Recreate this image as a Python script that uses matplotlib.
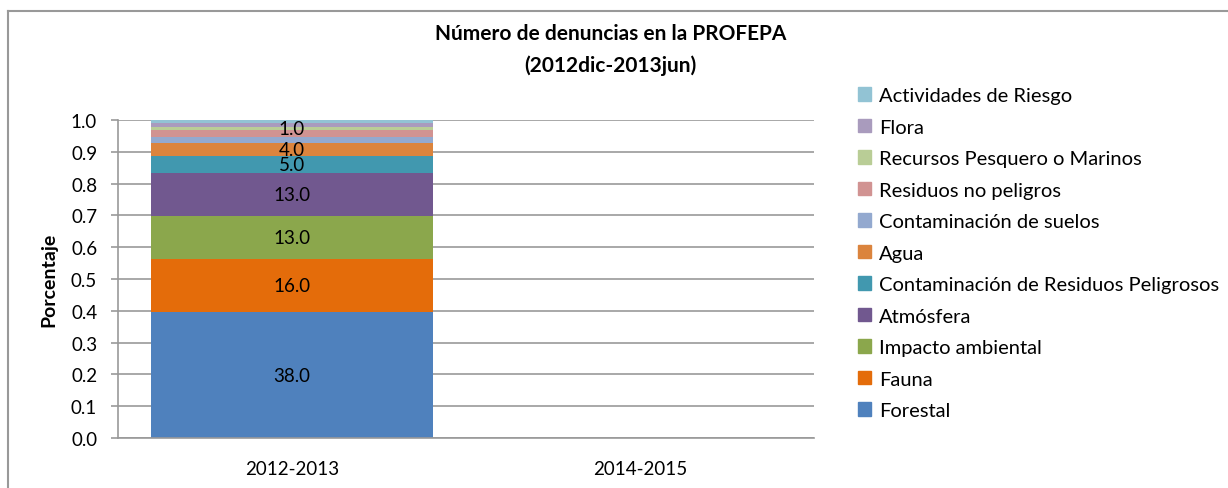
import matplotlib
matplotlib.use("Agg")
import matplotlib.pyplot as plt
from matplotlib.patches import Patch
from matplotlib.lines import Line2D

plt.rcParams['font.family'] = ['Lato', 'DejaVu Sans']

# data: number of complaints per category (2012dic-2013jun)
categorias = ["Forestal", "Fauna", "Impacto ambiental", "Atmósfera",
              "Contaminación de Residuos Peligrosos", "Agua",
              "Contaminación de suelos", "Residuos no peligros",
              "Recursos Pesquero o Marinos", "Flora", "Actividades de Riesgo"]
denuncias = [38, 16, 13, 13, 5, 4, 2, 2, 1, 1, 1]
mostrar_etiqueta = [True, True, True, True, True, True, False, False, True, False, False]
periodos = ["2012-2013", "2014-2015"]
colores = ["#4F81BD", "#E46C0A", "#8BA74C", "#71588F", "#4198AF", "#DB843D",
           "#93A9CF", "#D19392", "#B9CD96", "#A99BBD", "#92C3D4"]

total = sum(denuncias)
FS = 13.5

fig = plt.figure(figsize=(12.28, 4.89), dpi=100)
ax = fig.add_axes([0.0961, 0.1022, 0.5668, 0.6504])

x = [0, 1]
base = 0.0
for cat, val, col, lab in zip(categorias, denuncias, colores, mostrar_etiqueta):
    h = val / total
    ax.bar(x[0], h, bottom=base, width=0.81, color=col, label=cat, zorder=2)
    if lab:
        ax.text(x[0], base + h / 2, f"{val:.1f}", ha="center", va="center",
                fontsize=FS, color="black", zorder=3)
    base += h

ax.set_xlim(-0.5, 1.5)
ax.set_ylim(0, 1.0)
ax.set_xticks(x)
ax.set_xticklabels(periodos, fontsize=FS)
ax.set_yticks([i / 10 for i in range(11)])
ax.set_yticklabels([f"{i / 10:.1f}" for i in range(11)], fontsize=FS)
ax.yaxis.grid(True, color="#999999", linewidth=1.2, zorder=0)
ax.tick_params(axis="x", length=0, pad=16)
ax.tick_params(axis="y", length=5, width=1.2, color="#999999", pad=10)
for s in ["top", "right"]:
    ax.spines[s].set_visible(False)
ax.spines["left"].set_color("#999999")
ax.spines["bottom"].set_color("#999999")
ax.spines["left"].set_linewidth(1.2)
ax.spines["bottom"].set_linewidth(1.2)
ax.set_ylabel("Porcentaje", fontsize=14, fontweight="bold", labelpad=10)

fig.text(0.497, 0.898, "Número de denuncias en la PROFEPA\n(2012dic-2013jun)",
         ha="center", va="center", fontsize=15, fontweight="bold", linespacing=1.7)

handles = [Patch(color=c, label=l) for c, l in zip(colores, categorias)][::-1]
fig.legend(handles=handles, loc="upper left", bbox_to_anchor=(0.692, 0.836),
           frameon=False, fontsize=14.5, handlelength=0.65, handleheight=0.65,
           handletextpad=0.4, labelspacing=0.72, borderaxespad=0)

# chart area border (left and top only visible)
fig.add_artist(Line2D([0.0065, 0.0065], [0.0, 0.975], color="#999999", linewidth=1.5))
fig.add_artist(Line2D([0.0065, 1.0], [0.975, 0.975], color="#999999", linewidth=1.5))

fig.savefig("out.png", dpi=100)
